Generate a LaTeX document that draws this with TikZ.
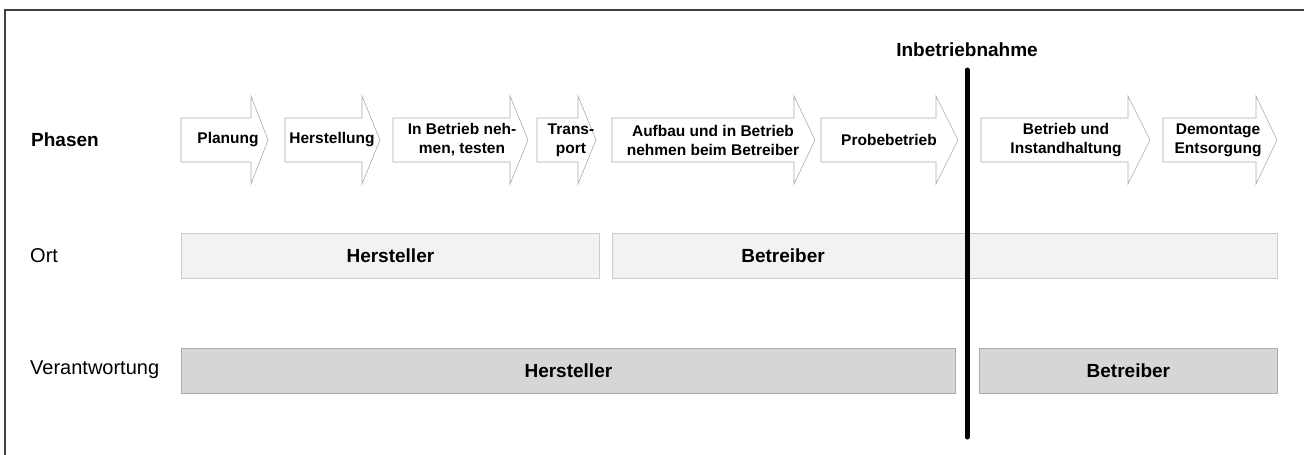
\documentclass[tikz,border=0pt]{standalone}
\usepackage{fontspec}
\setmainfont{Liberation Sans}
\begin{document}
\begin{tikzpicture}[x=1pt,y=-1pt,
  phase/.style={draw=gray!65, fill=white, line width=0.6pt},
  phasetext/.style={font=\fontsize{15.5}{19}\selectfont\bfseries, align=center, inner sep=0pt},
  rowlabel/.style={anchor=west, inner sep=0pt},
  ortbox/.style={draw=gray!40, fill=gray!10, line width=0.8pt, inner sep=0pt,
    anchor=north west, minimum height=45pt, font=\fontsize{19}{23}\selectfont\bfseries},
  verbox/.style={draw=gray!65, fill=gray!32, line width=0.8pt, inner sep=0pt,
    anchor=north west, minimum height=45pt, font=\fontsize{19}{23}\selectfont\bfseries},
  frameline/.style={draw=black!75, line width=2pt}]
\useasboundingbox (0,0) rectangle (1304,455);
% frame (cropped)
\coordinate (fbl) at (5,455);
\coordinate (ftl) at (5,10);
\coordinate (ftr) at (1304,10);
\draw[frameline] (fbl) -- (ftl) -- (ftr);
% row labels
\node[rowlabel, font=\fontsize{19}{23}\selectfont\bfseries] (lphasen) at (31,140) {Phasen};
\node[rowlabel, font=\fontsize{20}{24}\selectfont] (lort) at (30,256) {Ort};
\node[rowlabel, font=\fontsize{20}{24}\selectfont] (lver) at (30,370) {Verantwortung};
% phase arrows
\newcommand{\phasearrow}[3]{%
  \draw[phase] (#1,118) -- (#2,118) -- (#2,96) -- (#3,140) -- (#2,184) -- (#2,162) -- (#1,162) -- cycle;}
\phasearrow{181}{251}{268}
\phasearrow{285}{362}{380}
\phasearrow{393}{510}{528}
\phasearrow{537}{578}{596}
\phasearrow{612}{794}{815}
\phasearrow{821}{936}{958}
\phasearrow{981}{1128}{1150}
\phasearrow{1163}{1256}{1277}
\node[phasetext] (p1) at (228,140) {Planung};
\node[phasetext] (p2) at (332,140) {Herstellung};
\node[phasetext] (p3) at (462,140) {In Betrieb neh-\\men, testen};
\node[phasetext] (p4) at (571,140) {Trans-\\port};
\node[phasetext] (p5) at (713,140) {Aufbau und in Betrieb\\nehmen beim Betreiber};
\node[phasetext] (p6) at (889,140) {Probebetrieb};
\node[phasetext] (p7) at (1066,140) {Betrieb und\\Instandhaltung};
\node[phasetext] (p8) at (1218,140) {Demontage\\Entsorgung};
% Ort row
\node[ortbox, minimum width=418pt] (ort1) at (181,233) {Hersteller};
\node[ortbox, minimum width=665pt] (ort2) at (612,233) {};
\node[font=\fontsize{19}{23}\selectfont\bfseries, inner sep=0pt] (ort2t) at (783,256) {Betreiber};
% Verantwortung row
\node[verbox, minimum width=774pt] (ver1) at (181,348) {Hersteller};
\node[verbox, minimum width=298pt] (ver2) at (979,348) {Betreiber};
% Inbetriebnahme
\node[font=\fontsize{19}{23}\selectfont\bfseries, inner sep=0pt] (inb) at (967,50) {Inbetriebnahme};
\coordinate (vtop) at (967,70);
\coordinate (vbot) at (967,437);
\draw[line width=5pt, line cap=round] (vtop) -- (vbot);
\end{tikzpicture}
\end{document}
